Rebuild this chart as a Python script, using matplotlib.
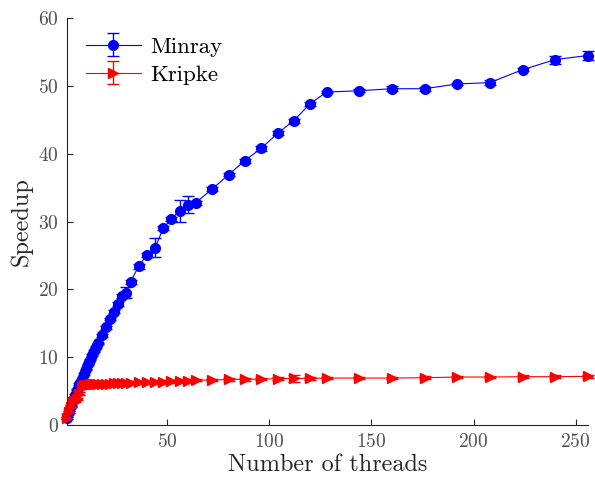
import matplotlib
matplotlib.use("Agg")
import matplotlib.pyplot as plt

plt.rcParams['font.family'] = 'serif'
plt.rcParams['font.serif'] = ['cmr10']
plt.rcParams['mathtext.fontset'] = 'cm'
plt.rcParams['axes.formatter.use_mathtext'] = True

# thread counts used for both benchmarks
threads = [1, 2, 3, 4, 5, 6, 7, 8, 9, 10, 11, 12, 13, 14, 15, 16,
           18, 20, 22, 24, 26, 28, 30, 32,
           36, 40, 44, 48, 52, 56, 60, 64,
           72, 80, 88, 96, 104, 112, 120, 128,
           144, 160, 176, 192, 208, 224, 240, 256]

minray = [1.0, 1.9, 2.8, 3.6, 4.4, 5.2, 6.0, 6.7, 7.5, 8.2, 8.9, 9.6, 10.3, 10.9, 11.5, 12.0,
          13.2, 14.4, 15.6, 16.7, 17.8, 19.0, 19.5, 21.1,
          23.4, 25.1, 26.1, 29.0, 30.4, 31.6, 32.5, 32.8,
          34.8, 36.9, 39.0, 40.8, 43.0, 44.9, 47.4, 49.1,
          49.3, 49.6, 49.6, 50.3, 50.5, 52.4, 53.9, 54.5]
minray_err = [0.1, 0.1, 0.1, 0.1, 0.1, 0.1, 0.1, 0.1, 0.1, 0.1, 0.1, 0.1, 0.1, 0.1, 0.1, 0.1,
              0.2, 0.2, 0.2, 0.2, 0.3, 0.3, 0.8, 0.3,
              0.4, 0.3, 1.4, 0.3, 0.3, 1.6, 1.3, 0.3,
              0.3, 0.2, 0.3, 0.4, 0.3, 0.3, 0.3, 0.2,
              0.2, 0.4, 0.3, 0.2, 0.4, 0.2, 0.6, 0.6]

kripke = [1.0, 1.9, 2.7, 3.3, 3.5, 3.8, 4.6, 5.6, 5.8, 5.9, 5.9, 5.95, 5.95, 6.0, 6.0, 6.0,
          6.0, 6.05, 6.05, 6.1, 6.1, 6.1, 6.15, 6.2,
          6.25, 6.3, 6.3, 6.35, 6.4, 6.45, 6.5, 6.6,
          6.6, 6.7, 6.7, 6.75, 6.8, 6.85, 6.85, 6.9,
          6.9, 6.9, 6.95, 7.05, 7.05, 7.1, 7.1, 7.15]
kripke_err = [0.1, 0.1, 0.1, 0.1, 0.1, 0.1, 0.2, 0.2, 0.2, 0.2, 0.2, 0.2, 0.2, 0.2, 0.2, 0.2,
              0.2, 0.2, 0.2, 0.2, 0.2, 0.2, 0.2, 0.2,
              0.2, 0.2, 0.2, 0.2, 0.2, 0.2, 0.2, 0.2,
              0.2, 0.2, 0.2, 0.2, 0.2, 0.5, 0.2, 0.2,
              0.2, 0.2, 0.2, 0.2, 0.2, 0.2, 0.2, 0.2]

fig = plt.figure(figsize=(5.95, 4.8), dpi=100)
ax = fig.add_axes([0.113, 0.115, 0.875, 0.847])

for y, err, col, mk, name in [(minray, minray_err, '#0000ff', 'o', 'Minray'),
                              (kripke, kripke_err, '#ff0000', '>', 'Kripke')]:
    cont = ax.errorbar(threads, y, yerr=err, color=col, marker=mk,
                       markersize=7, linewidth=0.8, elinewidth=1.0, capsize=4.5,
                       label=name)
    for art in cont.lines[0:1] + tuple(cont.lines[1]) + tuple(cont.lines[2]):
        art.set_clip_on(False)

ax.set_xlim(1, 256)
ax.set_ylim(0, 60)
ax.set_xticks([50, 100, 150, 200, 250])
ax.set_yticks([0, 10, 20, 30, 40, 50, 60])
ax.set_xlabel('Number of threads', fontsize=17.5, color='#262626', labelpad=2)
ax.set_ylabel('Speedup', fontsize=17.5, color='#262626', labelpad=4)

ax.spines['top'].set_visible(False)
ax.spines['right'].set_visible(False)
for s in ('left', 'bottom'):
    ax.spines[s].set_color('#262626')
    ax.spines[s].set_linewidth(0.8)
ax.tick_params(direction='in', length=4, width=0.8, colors='#262626',
               labelsize=14, labelcolor='#505050', pad=6)

ax.legend(loc='upper left', frameon=False, fontsize=16.5, handlelength=2.4,
          borderaxespad=0.4, handletextpad=0.4, labelspacing=0.35)

fig.savefig('out.png', dpi=100)
